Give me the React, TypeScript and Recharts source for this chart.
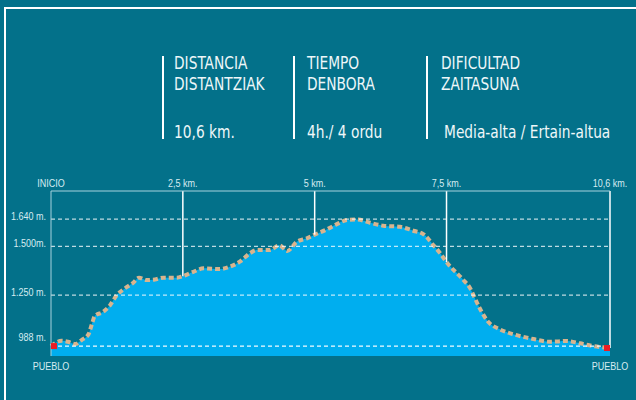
import React from 'react';
import {
  AreaChart,
  Area,
  XAxis,
  YAxis,
  ReferenceLine,
} from 'recharts';

// perfil de la ruta: km recorridos y altitud (m)
const distanceKm = [
  0, 0.2, 0.32, 0.46, 0.58, 0.71, 0.77, 0.83, 0.99, 1.12, 1.25, 1.4, 1.56, 1.67, 1.81,
  1.97, 2.13, 2.38, 2.5, 2.7, 2.89, 3.2, 3.39, 3.58, 3.77, 3.9, 4.15, 4.33, 4.48, 4.66,
  4.85, 5.0, 5.23, 5.42, 5.61, 5.8, 6.05, 6.3, 6.62, 6.87, 7.06, 7.25, 7.38, 7.5, 7.82,
  7.95, 8.01, 8.13, 8.29, 8.51, 8.83, 9.15, 9.46, 9.78, 10.03, 10.28, 10.6,
];
const elevationM = [
  988, 1015, 1010, 998, 1019, 1048, 1096, 1142, 1164, 1198, 1250, 1284, 1313, 1339, 1327,
  1330, 1339, 1339, 1347, 1369, 1387, 1383, 1395, 1421, 1464, 1481, 1481, 1505, 1476, 1523,
  1541, 1560, 1587, 1614, 1635, 1638, 1621, 1606, 1600, 1580, 1563, 1506, 1464, 1419, 1327,
  1284, 1250, 1182, 1113, 1074, 1044, 1024, 1010, 1014, 1002, 988, 978,
];

const topTicks = [0, 2.5, 5, 7.5, 10.6];
const markerKm = [2.5, 5, 7.5];
const bottomTicks = [0, 10.6];
const elevationTicks = [988, 1250, 1500, 1640];
const elevationLabels = ['988 m.', '1.250 m.', '1.500m.', '1.640 m.'];

const headerTitles = [
  ['DISTANCIA', 'DISTANTZIAK'],
  ['TIEMPO', 'DENBORA'],
  ['DIFICULTAD', 'ZAITASUNA'],
];
const headerValues = ['10,6 km.', '4h./ 4 ordu', 'Media-alta / Ertain-altua'];

const Y_MIN = 937;
const Y_MAX = 1784;

const BG = '#03718a';
const HEAD_FONT = "'DejaVu Sans Condensed', sans-serif";
const TICK_FONT = "'Liberation Sans', Arial, sans-serif";
const TICK_COLOR = '#d6ecf1';

const data = distanceKm.map((km, i) => ({ km, elev: elevationM[i] }));

const elevAt = (km: number) => elevationM[distanceKm.indexOf(km)];

const kmLabel = (v: number) => {
  if (v === 0) return 'INICIO';
  return `${String(v).replace('.', ',')} km.`;
};

// texto estrecho: Liberation Sans comprimido en horizontal
const NarrowText = ({ x, y, anchor, children }: any) => (
  <g transform={`translate(${x},${y})`}>
    <text transform="scale(0.9,1)" textAnchor={anchor} fill={TICK_COLOR} fontSize={10} fontFamily={TICK_FONT}>
      {children}
    </text>
  </g>
);

const ElevTick = ({ x, y, payload }: any) => {
  const idx = elevationTicks.indexOf(payload.value);
  const dy = payload.value === 988 ? -5 : 1;
  return <NarrowText x={x} y={y + dy} anchor="end">{elevationLabels[idx]}</NarrowText>;
};

const TopTick = ({ x, y, payload }: any) => (
  <NarrowText x={x} y={y + 1} anchor="middle">{kmLabel(payload.value)}</NarrowText>
);

const BottomTick = ({ x, y }: any) => (
  <NarrowText x={x} y={y + 8} anchor="middle">PUEBLO</NarrowText>
);

const EndDot = (props: any) => {
  const { cx, cy, index } = props;
  const last = data.length - 1;
  if (index !== 0 && index !== last) return <g key={`d${index}`} />;
  const shift = index === 0 ? 3 : -3;
  return <rect key={`d${index}`} x={cx + shift - 3} y={cy - 3} width={6} height={6} fill="#ec1c24" />;
};

const headText: React.CSSProperties = {
  position: 'absolute',
  color: '#eef7f9',
  fontSize: 18,
  lineHeight: '21px',
  whiteSpace: 'nowrap',
  transform: 'scaleX(0.85)',
  transformOrigin: 'left top',
  fontFamily: HEAD_FONT,
};

const App = () => {
  const colX = [162, 293, 426];
  const textX = [174, 307, 441];

  return (
    <div style={{ position: 'absolute', left: 0, top: 0, width: 636, height: 400, background: BG, overflow: 'hidden' }}>
      <div style={{ position: 'absolute', left: 4, top: 7, width: 640, height: 400, borderTop: '2px solid #ffffff', borderLeft: '2px solid #ffffff' }} />

      {colX.map((x, i) => (
        <React.Fragment key={i}>
          <div style={{ position: 'absolute', left: x, top: 56, width: 2, height: 83, background: '#ffffff' }} />
          <div style={{ ...headText, left: textX[i], top: 52 }}>
            {headerTitles[i][0]}
            <br />
            {headerTitles[i][1]}
          </div>
          <div style={{ ...headText, left: textX[i] + (i === 2 ? 3 : 0), top: 121 }}>
            {headerValues[i]}
          </div>
        </React.Fragment>
      ))}

      <div style={{ position: 'absolute', left: 0, top: 0 }}>
        <AreaChart width={636} height={400} data={data} margin={{ top: 161, right: 26, left: 0, bottom: 14 }}>
          <XAxis
            xAxisId="top"
            orientation="top"
            dataKey="km"
            type="number"
            domain={[0, 10.6]}
            ticks={topTicks}
            height={30}
            tickSize={0}
            tickMargin={5}
            axisLine={{ stroke: '#a7d3dd', strokeWidth: 1 }}
            tick={<TopTick />}
            interval={0}
          />
          <XAxis
            xAxisId="bottom"
            orientation="bottom"
            dataKey="km"
            type="number"
            domain={[0, 10.6]}
            ticks={bottomTicks}
            height={30}
            tickSize={0}
            tickMargin={6}
            axisLine={false}
            tick={<BottomTick />}
            interval={0}
          />
          <YAxis
            type="number"
            domain={[Y_MIN, Y_MAX]}
            ticks={elevationTicks}
            width={51}
            tickSize={0}
            tickMargin={5}
            axisLine={{ stroke: '#a7d3dd', strokeWidth: 1 }}
            tick={<ElevTick />}
            interval={0}
          />
          <Area
            xAxisId="top"
            type="monotone"
            dataKey="elev"
            stroke="#d8b48e"
            strokeWidth={4}
            strokeDasharray="5 3"
            fill="#00aeef"
            fillOpacity={1}
            baseValue={Y_MIN}
            dot={EndDot}
            activeDot={false}
            isAnimationActive={false}
          />
          {elevationTicks.map((v) => (
            <ReferenceLine
              key={v}
              xAxisId="top"
              y={v}
              stroke="#ffffff"
              strokeOpacity={v === 988 ? 0.95 : 0.75}
              strokeWidth={1.2}
              strokeDasharray="4 3"
            />
          ))}
          {markerKm.map((km) => (
            <ReferenceLine
              key={km}
              xAxisId="top"
              segment={[{ x: km, y: Y_MAX }, { x: km, y: elevAt(km) }]}
              stroke="#ffffff"
              strokeWidth={1.5}
            />
          ))}
          <ReferenceLine
            xAxisId="top"
            segment={[{ x: 10.6, y: Y_MAX }, { x: 10.6, y: 978 }]}
            stroke="#ffffff"
            strokeWidth={1.5}
          />
        </AreaChart>
      </div>
    </div>
  );
};

export default App;
